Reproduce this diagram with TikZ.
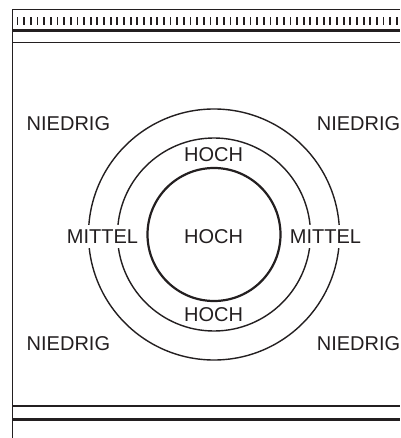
\documentclass[tikz,border=0pt]{standalone}
\usepackage{fontspec}
\setmainfont{Liberation Sans}
\definecolor{druck}{RGB}{35,31,32}

\begin{document}
\begin{tikzpicture}[x=1pt, y=-1pt, draw=druck,
    ring/.style={draw=druck, line width=1.4pt},
    stufe/.style={text=druck, font=\fontsize{20}{24}\selectfont, inner sep=0pt},
    lueckig/.style={stufe, fill=white, inner xsep=3pt, inner ysep=4.5pt}]
  \useasboundingbox (0,0) rectangle (400,438);

  % Rahmen oben und links
  \draw[line width=1.3pt] (12.5,438) -- (12.5,9.5) -- (400,9.5);
  \foreach \i in {0,...,57}
    \draw[line width=1.8pt] ({17.5+6.656*\i},17.3) -- ++(0,8);
  \draw[line width=2.7pt] (12.5,30.7) -- (400,30.7);
  \draw[line width=1.8pt] (12.5,42.5) -- (400,42.5);

  % Rahmen unten
  \draw[line width=2.2pt] (12.5,406.2) -- (400,406.2);
  \draw[line width=2.2pt] (12.5,419.5) -- (400,419.5);

  % Ringe
  \coordinate (mitte) at (214,234.5);
  \draw[ring] (mitte) circle[radius=125.5pt];
  \draw[ring] (mitte) circle[radius=96.5pt];
  \draw[ring, line width=2.2pt] (mitte) circle[radius=66.5pt];

  % Stufen
  \node[stufe] (hochmitte) at (213.5,236.5) {HOCH};
  \node[stufe] (hochoben) at (213.5,154.5) {HOCH};
  \node[stufe] (hochunten) at (213.5,314.5) {HOCH};
  \node[lueckig] (mittellinks) at (102.5,236.5) {MITTEL};
  \node[lueckig] (mittelrechts) at (325.5,236.5) {MITTEL};
  \node[stufe] (niedrigol) at (68.4,124) {NIEDRIG};
  \node[stufe] (niedrigor) at (358.5,124) {NIEDRIG};
  \node[stufe] (niedrigul) at (68.4,344) {NIEDRIG};
  \node[stufe] (niedrigur) at (358.5,344) {NIEDRIG};
\end{tikzpicture}
\end{document}
